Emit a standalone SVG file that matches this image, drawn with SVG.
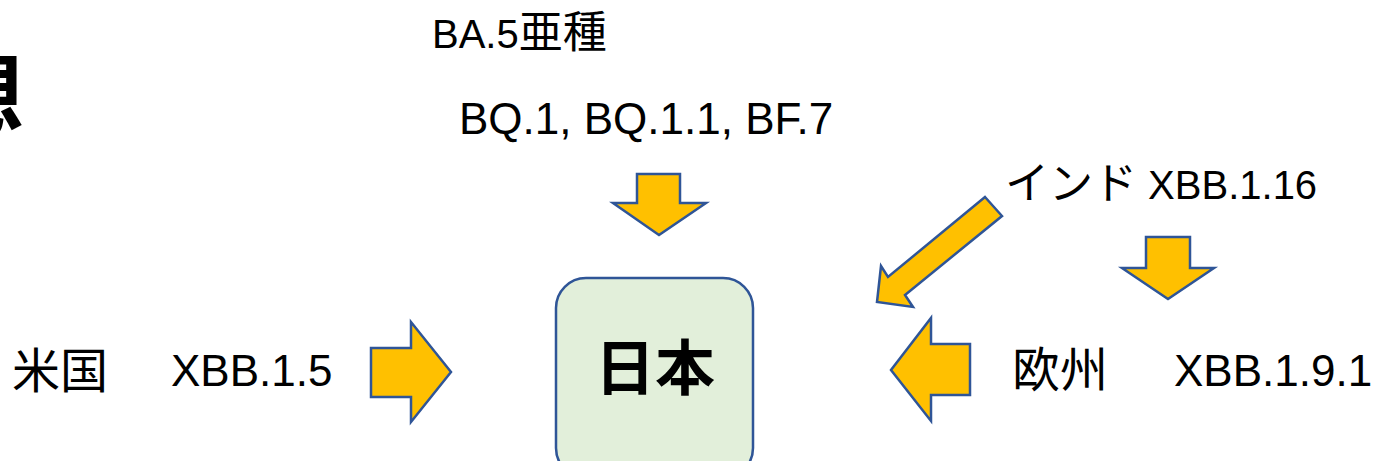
<svg xmlns="http://www.w3.org/2000/svg" width="1379" height="461" viewBox="0 0 1379 461">
  <style>
    .arrow { fill: #FFC000; stroke: #2F5597; stroke-width: 2.5; stroke-linejoin: miter; }
    .lat { font-family: "Liberation Sans", "Noto Sans CJK JP", sans-serif; fill: #000; }
    .jp { font-family: "Noto Sans CJK JP", sans-serif; fill: #000; }
  </style>
  <rect width="1379" height="461" fill="#ffffff"/>
  <g id="title">
    <text class="jp" x="-66" y="128" font-size="90" font-weight="bold">想</text>
  </g>
  <g id="japan">
    <rect x="556" y="278" width="197" height="200" rx="30" ry="30" fill="#E2EFDA" stroke="#2F5597" stroke-width="2.5"/>
    <text class="jp" x="655" y="390" font-size="60" font-weight="bold" text-anchor="middle">日本</text>
  </g>
  <g id="ba5">
    <text x="432" y="48"><tspan class="lat" font-size="40">BA.5</tspan><tspan class="jp" font-size="44">亜種</tspan></text>
    <text class="lat" x="459" y="134" font-size="44">BQ.1, BQ.1.1, BF.7</text>
  </g>
  <g id="india">
    <text x="1005" y="199"><tspan class="jp" font-size="44">インド</tspan><tspan class="lat" font-size="40"> XBB.1.16</tspan></text>
  </g>
  <g id="us">
    <text class="jp" x="12" y="388" font-size="48">米国</text>
    <text class="lat" x="171" y="386" font-size="44">XBB.1.5</text>
  </g>
  <g id="europe">
    <text class="jp" x="1012" y="387" font-size="48">欧州</text>
    <text class="lat" x="1174" y="386" font-size="44">XBB.1.9.1</text>
  </g>
  <g id="connectors">
    <polygon class="arrow" points="371,348 411,348 411,322 451,372 411,422 411,397 371,397"/>
    <polygon class="arrow" points="970,344 931,344 931,318 891,370 931,421 931,395 970,395"/>
    <polygon class="arrow" points="637,174 680,174 680,203 706,203 659,235 613,203 637,203"/>
    <polygon class="arrow" points="1146,237 1190,237 1190,268 1214,268 1168,299 1122,268 1146,268"/>
    <polygon class="arrow" points="985,197 1002,216 905,295 913,307 877,302 881,266 888,277"/>
  </g>
</svg>
